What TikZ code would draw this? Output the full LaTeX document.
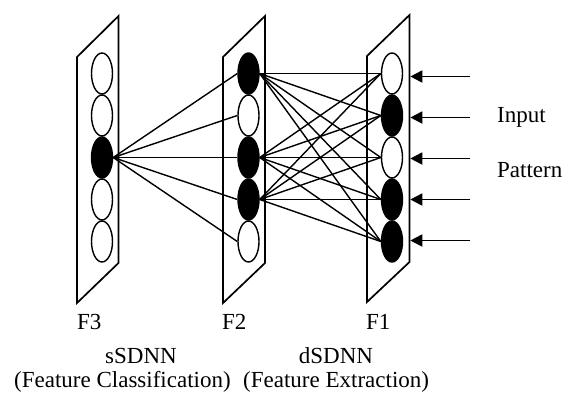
\documentclass[tikz,border=0pt]{standalone}
\usepackage{fontspec}
\setmainfont{Liberation Serif}
\usetikzlibrary{arrows.meta,shapes.geometric}
\pgfdeclarelayer{bg}
\pgfsetlayers{bg,main}
\begin{document}
\begin{tikzpicture}[x=1pt,y=-1pt,
  neuron/.style={ellipse,draw,line width=1.4pt,minimum width=21pt,minimum height=41pt,inner sep=0pt},
  nblack/.style={neuron,fill=black},
  nwhite/.style={neuron,fill=white},
  plane/.style={draw,line width=1.7pt,line join=miter},
  link/.style={line width=1.4pt},
  inarrow/.style={line width=1.8pt,-{Triangle[length=12pt,width=12pt]}},
  lbl/.style={font=\fontsize{23}{24}\selectfont,inner sep=0pt}]
\useasboundingbox (0,0) rectangle (564,392);
% F3 layer
\node[nwhite] (c1) at (102,73.5) {};
\node[nwhite] (c2) at (102,115.5) {};
\node[nblack] (c3) at (102,157.5) {};
\node[nwhite] (c4) at (102,199.5) {};
\node[nwhite] (c5) at (102,241.5) {};
% F2 layer
\node[nblack] (b1) at (248.5,73.5) {};
\node[nwhite] (b2) at (248.5,115.5) {};
\node[nblack] (b3) at (248.5,157.5) {};
\node[nblack] (b4) at (248.5,199.5) {};
\node[nwhite] (b5) at (248.5,241.5) {};
% F1 layer
\node[nwhite] (a1) at (392,73.5) {};
\node[nblack] (a2) at (392,115.5) {};
\node[nwhite] (a3) at (392,157.5) {};
\node[nblack] (a4) at (392,199.5) {};
\node[nblack] (a5) at (392,241.5) {};
\begin{pgfonlayer}{bg}
  \draw[plane] (77,57) -- (77,303) -- (118.5,263) -- (118.5,16) -- cycle;
  \draw[plane] (223,57) -- (223,303) -- (265,263) -- (265,16) -- cycle;
  \draw[plane] (367,56) -- (367,302) -- (409.5,262) -- (409.5,15) -- cycle;
  \foreach \j in {1,...,5} {\draw[link] (c3.east) -- (b\j.west);}
  \foreach \i in {1,3,4} {\foreach \j in {1,...,5} {\draw[link] (b\i.east) -- (a\j.west);}}
\end{pgfonlayer}
% input arrows
\foreach \k/\y in {1/76.5,2/117.5,3/158.5,4/199.5,5/240.5} {
  \coordinate (s\k) at (470,\y);
  \coordinate (t\k) at (410.3,\y);
  \draw[inarrow] (s\k) -- (t\k);
}
% labels
\node[lbl,anchor=base west] (lf3) at (77,329) {F3};
\node[lbl,anchor=base west] (lf2) at (222,329) {F2};
\node[lbl,anchor=base west] (lf1) at (366,329) {F1};
\node[lbl,anchor=base] (ls) at (141,363) {sSDNN};
\node[lbl,anchor=base] (ld) at (336,363) {dSDNN};
\node[lbl,anchor=base west] (lfc) at (14,387) {(Feature Classification)};
\node[lbl,anchor=base west] (lfe) at (243,387) {(Feature Extraction)};
\node[lbl,anchor=base west] (lin) at (497,122) {Input};
\node[lbl,anchor=base west] (lpt) at (497,177) {Pattern};
\end{tikzpicture}
\end{document}
